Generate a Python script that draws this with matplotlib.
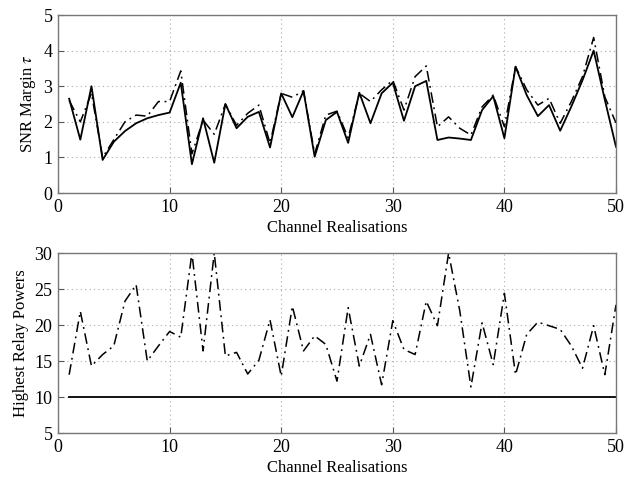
import numpy as np
import matplotlib
matplotlib.use('Agg')
import matplotlib.pyplot as plt

plt.rcParams['font.family'] = ['Liberation Serif', 'DejaVu Serif']
plt.rcParams['mathtext.fontset'] = 'stix'

# channel realisation index
k = np.arange(1, 51)

# SNR margin, solid curve
snr_solid = [2.65, 1.5, 3.0, 0.93, 1.44, 1.74, 1.96, 2.1, 2.19, 2.26,
             3.1, 0.81, 2.1, 0.85, 2.5, 1.82, 2.14, 2.28, 1.28, 2.8,
             2.13, 2.87, 1.02, 2.05, 2.28, 1.41, 2.82, 1.96, 2.8, 3.1,
             2.03, 3.0, 3.15, 1.49, 1.56, 1.53, 1.49, 2.33, 2.72, 1.54,
             3.55, 2.75, 2.16, 2.47, 1.75, 2.43, 3.17, 4.0, 2.62, 1.3]

# SNR margin, dash-dot curve
snr_dashdot = [2.6, 2.0, 2.8, 1.0, 1.5, 2.0, 2.19, 2.16, 2.57, 2.57,
               3.43, 1.1, 2.05, 1.65, 2.5, 1.9, 2.24, 2.47, 1.4, 2.8,
               2.69, 2.87, 1.1, 2.19, 2.3, 1.55, 2.8, 2.57, 2.9, 3.17,
               2.33, 3.27, 3.57, 1.86, 2.14, 1.82, 1.63, 2.42, 2.75, 1.86,
               3.55, 2.9, 2.47, 2.66, 1.96, 2.57, 3.27, 4.37, 2.7, 1.97]

# highest relay powers
relay_fixed = [10.0] * 50
relay_dashdot = [13.1, 21.9, 14.3, 15.9, 17.1, 23.3, 25.6, 15.0, 17.1, 19.1,
                 18.3, 30.0, 16.4, 30.0, 15.7, 16.2, 13.2, 15.1, 20.7, 12.9,
                 22.6, 16.4, 18.5, 17.3, 12.2, 22.4, 14.3, 18.7, 11.7, 20.6,
                 16.6, 15.9, 23.3, 19.9, 30.0, 22.0, 11.4, 20.3, 14.5, 24.4,
                 13.1, 18.7, 20.4, 19.9, 19.4, 17.1, 14.0, 19.9, 13.1, 22.8]

fig = plt.figure(figsize=(6.38, 4.79), dpi=100)
ax1 = fig.add_axes([0.0909, 0.597, 0.8746, 0.3716])
ax2 = fig.add_axes([0.0909, 0.096, 0.8746, 0.3758])

dd = (7, 3, 1.2, 3)

ax1.plot(k, snr_dashdot, color='black', lw=1.1, dashes=dd)
ax1.plot(k, snr_solid, color='black', lw=1.3)
ax1.set_ylim(0, 5)
ax1.set_yticks(range(0, 6))
ax1.set_ylabel(r'SNR Margin $\tau$', fontsize=12)

ax2.plot(k, relay_dashdot, color='black', lw=1.1, dashes=dd)
ax2.plot(k, relay_fixed, color='black', lw=1.3)
ax2.set_ylim(5, 30)
ax2.set_yticks(range(5, 31, 5))
ax2.set_ylabel('Highest Relay Powers', fontsize=12)

for ax in (ax1, ax2):
    ax.set_xlim(0, 50)
    ax.set_xticks(range(0, 51, 10))
    ax.set_xlabel('Channel Realisations', fontsize=12, labelpad=3)
    ax.grid(True, color='#aaaaaa', linestyle=(0, (1, 3)), lw=0.8)
    ax.tick_params(direction='in', length=4, labelsize=13, color='#555555', pad=4)
    for s in ax.spines.values():
        s.set_color('#777777')
        s.set_linewidth(1.0)

fig.savefig('out.png', dpi=100)
